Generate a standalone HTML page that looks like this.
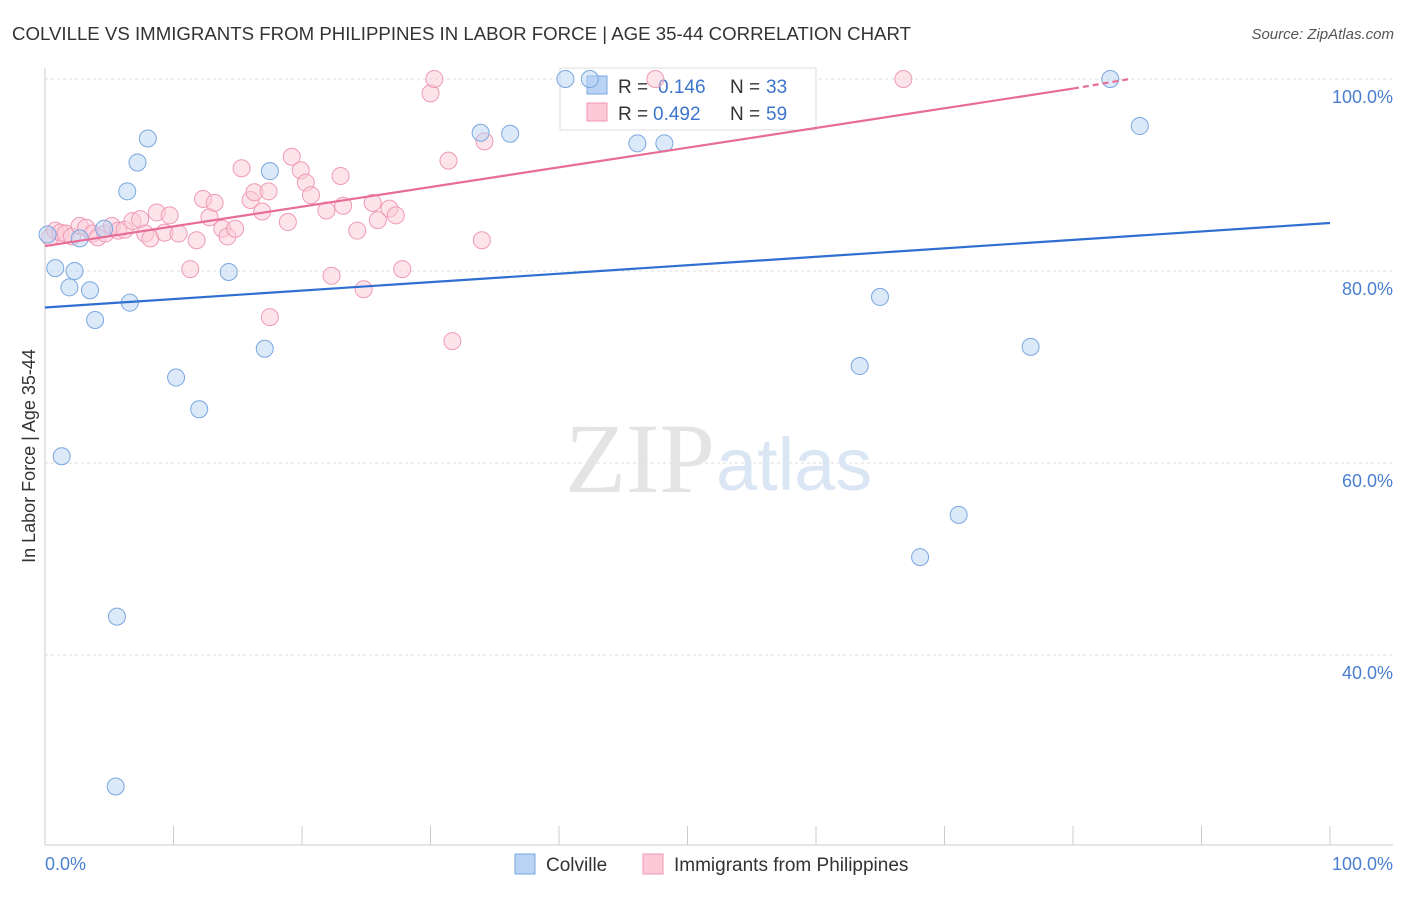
<!DOCTYPE html>
<html><head><meta charset="utf-8"><style>
body{margin:0;background:#fff;font-family:"Liberation Sans",sans-serif;}
</style></head><body>
<svg id="chart" width="1406" height="892" xmlns="http://www.w3.org/2000/svg">
<text x="12" y="40" font-size="18" fill="#333" textLength="899" lengthAdjust="spacingAndGlyphs">COLVILLE VS IMMIGRANTS FROM PHILIPPINES IN LABOR FORCE | AGE 35-44 CORRELATION CHART</text>
<text x="1394" y="39" font-size="15" fill="#555" font-style="italic" text-anchor="end">Source: ZipAtlas.com</text>
<g id="grid"></g>
<text x="715" y="492" font-size="100" fill="#e4e4e4" font-family="Liberation Serif" text-anchor="end">ZIP</text>
<text x="716" y="490" font-size="74" fill="#dbe6f5">atlas</text>
<line x1="45" y1="68" x2="45" y2="845" stroke="#ccc"/>
<line x1="45" y1="845" x2="1393" y2="845" stroke="#ccc"/>
<text x="35" y="456" font-size="18" fill="#333" transform="rotate(-90 35 456)" text-anchor="middle">In Labor Force | Age 35-44</text>
<text x="45" y="870" font-size="18" fill="#4a7fd0">0.0%</text>
<text x="1393" y="870" font-size="18" fill="#4a7fd0" text-anchor="end">100.0%</text>
<g>
<rect x="560" y="68" width="256" height="62" fill="#fff" stroke="#ddd"/>
<rect x="587" y="76" width="20" height="18" fill="#b8d3f3" stroke="#7aa7e0"/>
<text x="618" y="93" font-size="19" fill="#333">R =</text>
<text x="658" y="93" font-size="19" fill="#3d74cc">0.146</text>
<text x="730" y="93" font-size="19" fill="#333">N =</text>
<text x="766" y="93" font-size="19" fill="#3d74cc">33</text>
<rect x="587" y="103" width="20" height="18" fill="#fbc9d8" stroke="#ef9ab4"/>
<text x="618" y="120" font-size="19" fill="#333">R =</text>
<text x="653" y="120" font-size="19" fill="#3d74cc">0.492</text>
<text x="730" y="120" font-size="19" fill="#333">N =</text>
<text x="766" y="120" font-size="19" fill="#3d74cc">59</text>
</g>
<g id="points"></g>
<g id="lines"></g>
<g>
<rect x="515" y="854" width="20" height="20" fill="#b8d3f3" stroke="#7aa7e0"/>
<text x="546" y="871" font-size="19" fill="#333">Colville</text>
<rect x="643" y="854" width="20" height="20" fill="#fbc9d8" stroke="#ef9ab4"/>
<text x="674" y="871" font-size="19" fill="#333">Immigrants from Philippines</text>
</g>
</svg>
<script>
const yTicks=[100,80,60,40];
const blueX=[0.2,0.8,1.9,2.3,3.5,3.9,2.7,4.6,5.6,5.5,6.4,6.6,7.2,8.0,10.2,12.0,14.3,17.1,17.5,1.3,33.9,36.2,40.5,42.4,46.1,48.2,63.4,64.980,68.1,71.1,76.7,82.9,85.2];
const blueY=[83.8,80.3,78.3,80.0,78.0,74.9,83.4,84.4,44.0,26.3,88.3,76.7,91.3,93.8,68.9,65.6,79.9,71.9,90.4,60.7,94.4,94.3,100,100,93.3,93.3,70.1,77.3,50.2,54.6,72.1,100,95.1];
const pinkX=[0.4,0.8,1.2,1.6,2.1,2.7,3.2,3.7,4.1,4.7,5.2,5.7,6.2,6.8,7.4,7.8,8.2,8.7,9.3,9.7,10.4,11.3,11.8,12.3,12.8,13.2,13.8,14.2,14.8,15.3,16.0,16.3,17.4,16.9,17.5,18.9,19.2,19.9,20.3,20.7,21.9,22.3,23.0,23.2,24.3,24.8,25.5,25.9,26.8,27.3,27.8,30.0,30.3,31.4,31.7,34.0,34.2,47.5,66.8];
const pinkY=[83.5,84.2,84.0,83.9,83.6,84.7,84.5,83.9,83.5,83.9,84.7,84.2,84.3,85.2,85.4,83.9,83.4,86.1,84.0,85.8,83.9,80.2,83.2,87.5,85.6,87.1,84.4,83.6,84.4,90.7,87.4,88.2,88.3,86.2,75.2,85.1,91.9,90.5,89.2,87.9,86.3,79.5,89.9,86.8,84.2,78.1,87.1,85.3,86.5,85.8,80.2,98.5,100,91.5,72.7,83.2,93.5,100,100];
const blueLine=[[0,76.2],[100,85.0]];
const pinkLine=[[0,82.6],[80,99.0],[84.4,100]];
const sx=v=>45+v*12.85, sy=v=>1039-v*9.6;
const NS='http://www.w3.org/2000/svg';
const grid=document.getElementById('grid');
yTicks.forEach(t=>{
  const l=document.createElementNS(NS,'line');
  l.setAttribute('x1',45);l.setAttribute('x2',1393);l.setAttribute('y1',sy(t));l.setAttribute('y2',sy(t));
  l.setAttribute('stroke','#ddd');l.setAttribute('stroke-dasharray','3,3');
  
  
  grid.appendChild(l);
  const tx=document.createElementNS(NS,'text');
  tx.setAttribute('x',1393);tx.setAttribute('y',sy(t)+24);tx.setAttribute('text-anchor','end');
  tx.setAttribute('font-size','18');tx.setAttribute('fill','#4a7fd0');tx.textContent=t.toFixed(1)+'%';
  
  
  grid.appendChild(tx);
});
for(let i=0;i<=10;i++){
  const l=document.createElementNS(NS,'line');
  l.setAttribute('x1',sx(i*10));l.setAttribute('x2',sx(i*10));l.setAttribute('y1',826);l.setAttribute('y2',845);
  l.setAttribute('stroke','#ccc');
  
  
  grid.appendChild(l);
}
const pts=document.getElementById('points');
function dots(X,Y,fill,stroke,name){
  X.forEach((x,i)=>{
    const c=document.createElementNS(NS,'circle');
    c.setAttribute('cx',sx(x));c.setAttribute('cy',sy(Y[i]));c.setAttribute('r',8.5);
    c.setAttribute('fill',fill);c.setAttribute('stroke',stroke);c.setAttribute('fill-opacity','0.5');
    
    
    pts.appendChild(c);
  });
}
dots(pinkX,pinkY,'#fbc9d8','#ef9ab4','point-philippines');
dots(blueX,blueY,'#b8d3f3','#7aa7e0','point-colville');
const lines=document.getElementById('lines');
function seg(a,b,color,dash,name){
  const l=document.createElementNS(NS,'line');
  l.setAttribute('x1',sx(a[0]));l.setAttribute('y1',sy(a[1]));l.setAttribute('x2',sx(b[0]));l.setAttribute('y2',sy(b[1]));
  l.setAttribute('stroke',color);l.setAttribute('stroke-width','2.2');
  if(dash)l.setAttribute('stroke-dasharray','6,4');
  
  
  lines.appendChild(l);
}
seg(blueLine[0],blueLine[1],'#2f6fd1',false,'trend-line-colville');
seg(pinkLine[0],pinkLine[1],'#e86d96',false,'trend-line-philippines');
seg(pinkLine[1],pinkLine[2],'#e86d96',true,'trend-line-philippines-extension');
</script>
</body></html>
